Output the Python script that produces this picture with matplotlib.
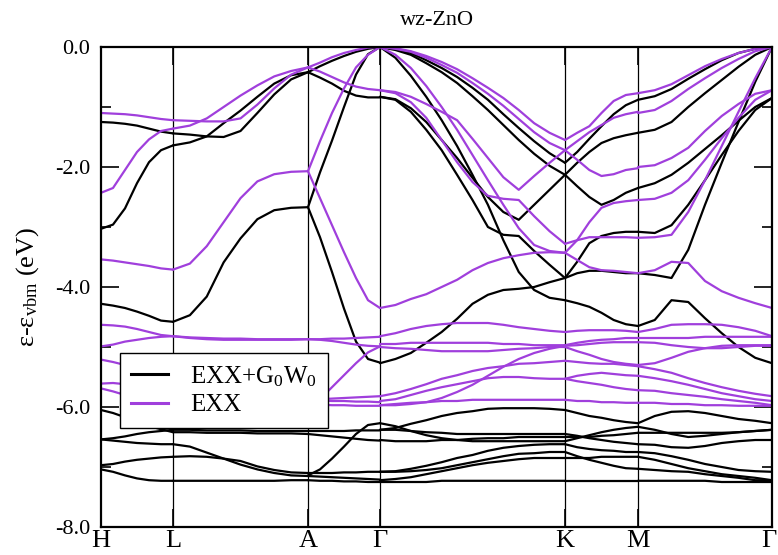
import numpy as np
import matplotlib
matplotlib.use("Agg")
import matplotlib.pyplot as plt
import matplotlib.transforms as mtransforms

plt.rcParams['font.family'] = ['Liberation Serif', 'DejaVu Serif']
plt.rcParams['mathtext.fontset'] = 'custom'
plt.rcParams['mathtext.rm'] = 'Liberation Serif'
plt.rcParams['mathtext.it'] = 'Liberation Serif:italic'
plt.rcParams['axes.unicode_minus'] = False

# high-symmetry points
sym_labels = ['H', 'L', 'A', 'Γ', 'K', 'M', 'Γ']
sym_k = [0.0, 0.72, 2.07, 2.79, 4.64, 5.37, 6.71]

# ---------------- EXX+G0W0 bands (eV), per path segment ----------------
gw_HL = [
    [-1.25, -1.26, -1.28, -1.31, -1.36, -1.41, -1.44],
    [-3.03, -2.96, -2.69, -2.27, -1.92, -1.72, -1.64],
    [-4.28, -4.31, -4.35, -4.41, -4.48, -4.56, -4.58],
    [-6.05, -6.10, -6.17, -6.25, -6.32, -6.37, -6.42],
    [-6.54, -6.52, -6.49, -6.45, -6.42, -6.40, -6.38],
    [-6.54, -6.56, -6.58, -6.60, -6.61, -6.62, -6.62],
    [-6.97, -6.95, -6.91, -6.88, -6.86, -6.84, -6.83],
    [-7.04, -7.08, -7.14, -7.19, -7.22, -7.23, -7.23],
]
gw_LA = [
    [-1.44, -1.46, -1.49, -1.50, -1.40, -1.10, -0.79, -0.54, -0.42],
    [-1.64, -1.59, -1.49, -1.27, -1.06, -0.83, -0.61, -0.47, -0.42],
    [-4.58, -4.47, -4.16, -3.59, -3.19, -2.87, -2.72, -2.68, -2.67],
    [-6.42, -6.42, -6.43, -6.43, -6.43, -6.44, -6.44, -6.44, -6.45],
    [-6.38, -6.38, -6.39, -6.39, -6.39, -6.40, -6.40, -6.40, -6.40],
    [-6.62, -6.66, -6.76, -6.86, -6.96, -7.04, -7.10, -7.14, -7.15],
    [-6.83, -6.82, -6.83, -6.86, -6.90, -6.99, -7.05, -7.09, -7.10],
    [-7.23, -7.23, -7.23, -7.23, -7.23, -7.23, -7.23, -7.22, -7.22],
]
gw_AG = [
    [-0.42, -0.32, -0.23, -0.15, -0.08, -0.03, 0.00],
    [-0.42, -0.51, -0.61, -0.73, -0.81, -0.84, -0.84],
    [-2.67, -2.09, -1.56, -1.00, -0.46, -0.12, 0.00],
    [-2.67, -3.17, -3.75, -4.36, -4.91, -5.20, -5.26],
    [-7.14, -7.04, -6.86, -6.66, -6.45, -6.30, -6.27],
    [-6.40, -6.40, -6.40, -6.40, -6.39, -6.39, -6.39],
    [-6.45, -6.47, -6.49, -6.51, -6.53, -6.55, -6.56],
    [-7.10, -7.10, -7.10, -7.09, -7.09, -7.08, -7.08],
    [-7.15, -7.16, -7.17, -7.18, -7.19, -7.20, -7.21],
    [-7.22, -7.23, -7.23, -7.24, -7.24, -7.25, -7.25],
]
gw_GK = [
    [0.00, -0.03, -0.10, -0.22, -0.35, -0.50, -0.68, -0.88, -1.12, -1.35, -1.57, -1.77, -1.93],
    [0.00, -0.05, -0.13, -0.27, -0.42, -0.60, -0.82, -1.05, -1.30, -1.55, -1.78, -1.98, -2.13],
    [-0.83, -0.87, -1.02, -1.25, -1.55, -1.85, -2.18, -2.50, -2.75, -2.88, -2.63, -2.38, -2.13],
    [-0.83, -0.88, -1.08, -1.38, -1.72, -2.13, -2.55, -3.00, -3.13, -3.15, -3.40, -3.63, -3.85],
    [0.00, -0.18, -0.48, -0.83, -1.22, -1.65, -2.13, -2.63, -3.22, -3.75, -4.05, -4.18, -4.22],
    [-5.27, -5.20, -5.10, -4.93, -4.75, -4.53, -4.28, -4.13, -4.05, -4.03, -4.00, -3.92, -3.85],
    [-6.27, -6.32, -6.40, -6.47, -6.52, -6.55, -6.57, -6.57, -6.57, -6.57, -6.57, -6.57, -6.57],
    [-6.38, -6.35, -6.28, -6.22, -6.15, -6.10, -6.07, -6.03, -6.02, -6.02, -6.02, -6.03, -6.05],
    [-6.55, -6.57, -6.57, -6.57, -6.55, -6.55, -6.53, -6.52, -6.52, -6.50, -6.50, -6.50, -6.50],
    [-6.38, -6.38, -6.40, -6.42, -6.43, -6.45, -6.45, -6.45, -6.45, -6.45, -6.45, -6.45, -6.45],
    [-7.08, -7.07, -7.03, -6.98, -6.92, -6.85, -6.80, -6.73, -6.68, -6.65, -6.63, -6.62, -6.62],
    [-7.22, -7.20, -7.17, -7.12, -7.07, -7.02, -6.97, -6.93, -6.90, -6.87, -6.85, -6.85, -6.85],
    [-7.25, -7.25, -7.25, -7.25, -7.23, -7.23, -7.23, -7.23, -7.23, -7.23, -7.23, -7.23, -7.23],
    [-7.08, -7.08, -7.07, -7.05, -7.02, -6.97, -6.92, -6.87, -6.82, -6.78, -6.77, -6.75, -6.75],
]
gw_KM = [
    [-1.93, -1.75, -1.53, -1.32, -1.12, -0.97, -0.88],
    [-2.13, -1.93, -1.75, -1.60, -1.52, -1.47, -1.43],
    [-2.13, -2.32, -2.50, -2.63, -2.55, -2.43, -2.35],
    [-3.85, -3.58, -3.27, -3.15, -3.10, -3.08, -3.08],
    [-3.85, -3.77, -3.73, -3.73, -3.75, -3.77, -3.77],
    [-4.22, -4.27, -4.33, -4.43, -4.55, -4.62, -4.65],
    [-6.57, -6.52, -6.47, -6.42, -6.38, -6.35, -6.33],
    [-6.05, -6.10, -6.15, -6.18, -6.22, -6.25, -6.27],
    [-6.50, -6.50, -6.50, -6.48, -6.47, -6.45, -6.43],
    [-6.45, -6.48, -6.52, -6.55, -6.58, -6.60, -6.62],
    [-6.62, -6.67, -6.70, -6.72, -6.73, -6.75, -6.75],
    [-6.85, -6.85, -6.85, -6.83, -6.83, -6.83, -6.83],
    [-7.23, -7.23, -7.23, -7.23, -7.23, -7.23, -7.23],
    [-6.75, -6.82, -6.88, -6.93, -6.98, -7.02, -7.03],
]
gw_MG = [
    [-0.88, -0.82, -0.70, -0.53, -0.37, -0.22, -0.10, -0.03, 0.00],
    [-1.43, -1.38, -1.25, -1.00, -0.77, -0.55, -0.33, -0.13, 0.00],
    [-2.35, -2.27, -2.13, -1.93, -1.70, -1.47, -1.23, -1.00, -0.85],
    [-3.08, -3.10, -2.97, -2.63, -2.22, -1.80, -1.40, -1.05, -0.85],
    [-3.77, -3.80, -3.85, -3.38, -2.63, -1.93, -1.25, -0.58, 0.00],
    [-4.65, -4.55, -4.22, -4.25, -4.52, -4.77, -5.00, -5.18, -5.27],
    [-6.33, -6.38, -6.45, -6.50, -6.48, -6.45, -6.42, -6.40, -6.38],
    [-6.27, -6.15, -6.08, -6.07, -6.10, -6.15, -6.20, -6.23, -6.27],
    [-6.43, -6.43, -6.43, -6.43, -6.43, -6.43, -6.42, -6.40, -6.38],
    [-6.62, -6.63, -6.67, -6.68, -6.65, -6.60, -6.57, -6.55, -6.55],
    [-6.75, -6.77, -6.82, -6.88, -6.95, -7.00, -7.05, -7.07, -7.08],
    [-6.83, -6.88, -6.95, -7.02, -7.07, -7.12, -7.15, -7.18, -7.22],
    [-7.23, -7.23, -7.23, -7.23, -7.23, -7.25, -7.25, -7.25, -7.25],
    [-7.03, -7.05, -7.07, -7.08, -7.12, -7.15, -7.18, -7.22, -7.22],
]

# ---------------- EXX bands (eV), per path segment ----------------
exx_HL = [
    [-1.10, -1.11, -1.12, -1.14, -1.17, -1.20, -1.22],
    [-2.43, -2.35, -2.05, -1.75, -1.54, -1.40, -1.36],
    [-3.54, -3.56, -3.59, -3.62, -3.65, -3.69, -3.71],
    [-4.63, -4.64, -4.66, -4.70, -4.75, -4.80, -4.82],
    [-4.99, -4.96, -4.91, -4.88, -4.85, -4.83, -4.82],
    [-5.21, -5.25, -5.30, -5.36, -5.42, -5.48, -5.55],
    [-5.61, -5.60, -5.62, -5.66, -5.70, -5.74, -5.78],
    [-5.69, -5.74, -5.80, -5.86, -5.90, -5.93, -5.95],
]
exx_LA = [
    [-1.22, -1.23, -1.24, -1.24, -1.19, -0.96, -0.69, -0.46, -0.34],
    [-1.36, -1.31, -1.19, -1.00, -0.81, -0.64, -0.49, -0.40, -0.34],
    [-3.71, -3.61, -3.32, -2.92, -2.52, -2.24, -2.12, -2.08, -2.07],
    [-4.82, -4.84, -4.85, -4.86, -4.86, -4.87, -4.87, -4.87, -4.87],
    [-4.82, -4.85, -4.87, -4.88, -4.88, -4.88, -4.88, -4.88, -4.87],
    [-5.55, -5.65, -5.75, -5.85, -5.92, -5.98, -6.02, -6.04, -6.05],
    [-5.78, -5.80, -5.82, -5.84, -5.85, -5.86, -5.87, -5.87, -5.88],
    [-5.95, -5.96, -5.96, -5.96, -5.96, -5.96, -5.96, -5.96, -5.96],
]
exx_AG = [
    [-0.34, -0.26, -0.17, -0.10, -0.05, -0.01, 0.00],
    [-0.34, -0.41, -0.50, -0.59, -0.66, -0.70, -0.72],
    [-2.07, -1.57, -1.10, -0.69, -0.34, -0.13, 0.00],
    [-2.07, -2.52, -2.97, -3.42, -3.85, -4.22, -4.35],
    [-4.87, -4.87, -4.86, -4.86, -4.85, -4.84, -4.83],
    [-4.87, -4.88, -4.90, -4.93, -4.96, -4.98, -4.99],
    [-6.05, -5.87, -5.67, -5.47, -5.27, -5.09, -4.99],
    [-5.88, -5.87, -5.86, -5.85, -5.84, -5.83, -5.82],
    [-5.88, -5.89, -5.90, -5.90, -5.91, -5.91, -5.92],
    [-5.96, -5.96, -5.97, -5.97, -5.98, -5.98, -5.98],
]
exx_GK = [
    [0.00, -0.02, -0.07, -0.15, -0.25, -0.37, -0.52, -0.68, -0.85, -1.05, -1.27, -1.43, -1.55],
    [0.00, -0.03, -0.08, -0.18, -0.30, -0.43, -0.60, -0.78, -0.98, -1.20, -1.42, -1.60, -1.72],
    [-0.72, -0.75, -0.83, -0.95, -1.08, -1.22, -1.53, -1.85, -2.17, -2.38, -2.15, -1.93, -1.72],
    [-0.72, -0.77, -0.92, -1.18, -1.55, -1.92, -2.25, -2.48, -2.53, -2.55, -2.82, -3.07, -3.28],
    [0.00, -0.13, -0.35, -0.65, -1.00, -1.38, -1.80, -2.22, -2.63, -3.02, -3.30, -3.40, -3.43],
    [-4.35, -4.30, -4.20, -4.12, -4.00, -3.88, -3.72, -3.60, -3.52, -3.47, -3.43, -3.42, -3.43],
    [-4.82, -4.77, -4.70, -4.65, -4.62, -4.60, -4.60, -4.60, -4.63, -4.67, -4.70, -4.73, -4.75],
    [-4.95, -4.95, -4.93, -4.93, -4.93, -4.93, -4.93, -4.93, -4.95, -4.95, -4.97, -4.97, -4.97],
    [-5.00, -5.02, -5.03, -5.05, -5.07, -5.07, -5.07, -5.07, -5.05, -5.03, -5.02, -5.00, -5.00],
    [-5.82, -5.77, -5.70, -5.62, -5.53, -5.47, -5.40, -5.35, -5.32, -5.28, -5.27, -5.25, -5.23],
    [-5.90, -5.87, -5.80, -5.73, -5.67, -5.62, -5.57, -5.52, -5.50, -5.50, -5.52, -5.53, -5.53],
    [-5.97, -5.95, -5.93, -5.92, -5.90, -5.90, -5.88, -5.88, -5.88, -5.88, -5.88, -5.88, -5.88],
    [-5.97, -5.97, -5.95, -5.92, -5.85, -5.75, -5.63, -5.48, -5.33, -5.20, -5.10, -5.03, -4.98],
]
exx_KM = [
    [-1.55, -1.43, -1.32, -1.10, -0.90, -0.80, -0.77],
    [-1.72, -1.57, -1.42, -1.30, -1.18, -1.12, -1.08],
    [-1.72, -1.88, -2.05, -2.15, -2.12, -2.05, -2.02],
    [-3.28, -3.22, -3.17, -3.17, -3.17, -3.17, -3.18],
    [-3.43, -3.55, -3.67, -3.72, -3.73, -3.75, -3.77],
    [-3.43, -3.22, -2.92, -2.68, -2.60, -2.57, -2.55],
    [-4.75, -4.73, -4.72, -4.72, -4.72, -4.73, -4.75],
    [-4.97, -4.93, -4.90, -4.88, -4.87, -4.85, -4.85],
    [-5.00, -5.07, -5.13, -5.20, -5.25, -5.28, -5.30],
    [-5.23, -5.25, -5.27, -5.28, -5.28, -5.30, -5.32],
    [-5.53, -5.48, -5.45, -5.43, -5.45, -5.47, -5.48],
    [-5.53, -5.57, -5.60, -5.63, -5.67, -5.70, -5.72],
    [-5.88, -5.90, -5.90, -5.92, -5.92, -5.93, -5.93],
    [-4.98, -4.97, -4.95, -4.93, -4.92, -4.92, -4.92],
]
exx_MG = [
    [-0.77, -0.72, -0.62, -0.47, -0.32, -0.20, -0.10, -0.03, 0.00],
    [-1.10, -1.05, -0.90, -0.70, -0.52, -0.35, -0.20, -0.07, 0.00],
    [-2.00, -1.97, -1.85, -1.68, -1.40, -1.15, -0.95, -0.78, -0.72],
    [-2.55, -2.53, -2.43, -2.22, -1.88, -1.52, -1.18, -0.88, -0.72],
    [-3.18, -3.17, -3.13, -2.75, -2.22, -1.65, -1.08, -0.52, 0.00],
    [-3.77, -3.72, -3.58, -3.60, -3.90, -4.07, -4.18, -4.27, -4.35],
    [-4.75, -4.70, -4.63, -4.62, -4.62, -4.63, -4.67, -4.73, -4.82],
    [-4.85, -4.85, -4.85, -4.85, -4.83, -4.83, -4.83, -4.83, -4.83],
    [-4.92, -4.93, -4.97, -5.00, -5.02, -5.02, -5.00, -4.98, -4.98],
    [-5.30, -5.27, -5.18, -5.08, -5.02, -4.98, -4.97, -4.97, -4.97],
    [-5.32, -5.37, -5.43, -5.52, -5.60, -5.67, -5.73, -5.78, -5.82],
    [-5.48, -5.52, -5.57, -5.63, -5.70, -5.77, -5.82, -5.87, -5.90],
    [-5.72, -5.73, -5.77, -5.80, -5.83, -5.87, -5.90, -5.93, -5.97],
    [-5.93, -5.93, -5.95, -5.95, -5.97, -5.97, -5.98, -5.98, -5.98],
]

gw_segments = [gw_HL, gw_LA, gw_AG, gw_GK, gw_KM, gw_MG]
exx_segments = [exx_HL, exx_LA, exx_AG, exx_GK, exx_KM, exx_MG]

series_labels = ['EXX+G$_0$W$_0$', 'EXX']
series_colors = ['black', '#A03FDC']

y_ticks = [0.0, -2.0, -4.0, -6.0, -8.0]

fig = plt.figure(figsize=(7.78, 5.55), dpi=100)
ax = fig.add_axes([101 / 778, 1 - 527 / 555, 671 / 778, 480 / 555])

lw = 1.6
for segs, color in zip([gw_segments, exx_segments], series_colors):
    for i, bands in enumerate(segs):
        for b in bands:
            k = np.linspace(sym_k[i], sym_k[i + 1], len(b))
            ax.plot(k, b, color=color, lw=lw, solid_joinstyle='round',
                    solid_capstyle='round')

for kx in sym_k[1:-1]:
    ax.axvline(kx, color='black', lw=0.9, zorder=0.5)

ax.set_xlim(sym_k[0], sym_k[-1])
ax.set_ylim(-8.0, 0.0)
ax.set_xticks(sym_k)
ax.set_xticklabels(sym_labels, fontsize=19)
ax.set_yticks(y_ticks)
ax.set_yticklabels(['%.1f' % v for v in y_ticks], fontsize=16)
ax.set_yticks([-1, -3, -5, -7], minor=True)
ax.tick_params(axis='y', which='major', direction='in', length=13, width=1.2,
               left=True, right=True, pad=8)
ax.tick_params(axis='y', which='minor', direction='in', length=7, width=1.2,
               left=True, right=True)
ax.tick_params(axis='x', which='major', direction='in', length=13, width=1.2,
               top=True, bottom=True, pad=2)
for sp in ax.spines.values():
    sp.set_linewidth(1.6)

# nudge the last Γ label so it stays inside the canvas
last = ax.get_xticklabels()[-1]
last.set_transform(last.get_transform() +
                   mtransforms.ScaledTranslation(-3 / 100, 0, fig.dpi_scale_trans))

ax.set_title('wz-ZnO', fontsize=16, pad=16)
ax.set_ylabel(r'ε-ε$_{\mathrm{vbm}}$ (eV)', fontsize=19, labelpad=10)

handles = [plt.Line2D([], [], color=c, lw=2.2) for c in series_colors]
leg = ax.legend(handles, series_labels, loc='upper left',
                bbox_to_anchor=(19 / 671, 174 / 480), borderaxespad=0,
                fontsize=18, frameon=True, fancybox=False, framealpha=1,
                edgecolor='black', handlelength=1.45, handletextpad=0.9,
                borderpad=0.45, labelspacing=0.2)
leg.get_frame().set_linewidth(1.0)

fig.savefig('out.png', dpi=100)
